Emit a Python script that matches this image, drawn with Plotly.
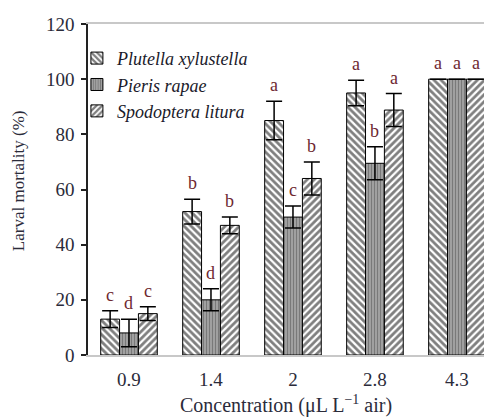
import plotly.graph_objects as go

concentrations = ["0.9", "1.4", "2", "2.8", "4.3"]
species = ["Plutella xylustella", "Pieris rapae", "Spodoptera litura"]

plutella = [13, 52, 85, 95, 100]
plutella_err = [3, 4.5, 7, 4.6, 0]
pieris = [8, 20, 50, 69.5, 100]
pieris_err = [5, 4, 4, 6, 0]
spodoptera = [15, 47, 64, 88.8, 100]
spodoptera_err = [2.5, 3, 6, 6, 0]

plutella_letters = ["c", "b", "a", "a", "a"]
pieris_letters = ["d", "d", "c", "b", "a"]
spodoptera_letters = ["c", "b", "b", "a", "a"]

y_ticks = [0, 20, 40, 60, 80, 100, 120]

FONT = "Liberation Serif, Times New Roman, serif"
TXT = "#2b2b3a"
LETTER = "#6e2830"

x_pos = list(range(len(concentrations)))

series = [
    (species[0], plutella, plutella_err, plutella_letters,
     dict(shape="\\", fgcolor="black", bgcolor="white", size=5, solidity=0.55)),
    (species[1], pieris, pieris_err, pieris_letters,
     dict(shape="|", fgcolor="#505050", bgcolor="#a0a0a0", size=3, solidity=0.33)),
    (species[2], spodoptera, spodoptera_err, spodoptera_letters,
     dict(shape="/", fgcolor="black", bgcolor="white", size=5, solidity=0.55)),
]

fig = go.Figure()
for name, vals, errs, letters, pat in series:
    fig.add_trace(go.Bar(
        x=x_pos, y=vals, name="<i>" + name + "</i>",
        marker=dict(color=pat["bgcolor"], pattern=pat,
                    line=dict(color="black", width=1)),
        error_y=dict(type="data", array=errs, visible=True,
                     color="black", thickness=1.5, width=8),
    ))

bar_w = 0.23
offsets = [-bar_w, 0, bar_w]
annotations = []
for k, (name, vals, errs, letters, pat) in enumerate(series):
    for i, (v, e, L) in enumerate(zip(vals, errs, letters)):
        annotations.append(dict(
            x=i + offsets[k], y=v + e, xref="x", yref="y", text=L,
            showarrow=False, yanchor="middle", yshift=16,
            font=dict(family=FONT, size=18, color=LETTER),
        ))

annotations.append(dict(
    x=-0.177, y=0.528, xref="paper", yref="paper",
    text="Larval mortality (%)", textangle=-90, showarrow=False,
    xanchor="center", yanchor="middle",
    font=dict(family=FONT, size=17, color=TXT),
))
annotations.append(dict(
    x=0.5, y=-0.151, xref="paper", yref="paper",
    text="Concentration (μL L<sup>−1</sup> air)", showarrow=False,
    xanchor="center", yanchor="middle",
    font=dict(family=FONT, size=20, color=TXT),
))

fig.update_layout(
    width=484, height=419,
    margin=dict(l=88, r=0, t=24, b=64),
    paper_bgcolor="white", plot_bgcolor="white",
    barmode="group", bargap=0.31, bargroupgap=0,
    font=dict(family=FONT, size=18, color=TXT),
    showlegend=True,
    legend=dict(x=-0.028, y=0.952, xanchor="left", yanchor="top",
                bgcolor="rgba(0,0,0,0)", tracegroupgap=0,
                font=dict(family=FONT, size=18, color="#1a1a2a")),
    annotations=annotations,
    xaxis=dict(range=[-0.5, 4.33], tickmode="array", tickvals=x_pos,
               ticktext=concentrations, showline=True, linecolor="#c8c8c8",
               linewidth=1.5, mirror=True, ticks="", showgrid=False,
               zeroline=False, ticklabelstandoff=6,
               tickfont=dict(family=FONT, size=19, color=TXT)),
    yaxis=dict(range=[0, 120], tickmode="array", tickvals=y_ticks,
               showline=True, linecolor="#222", linewidth=1.5,
               ticks="outside", ticklen=5, tickcolor="#222", tickwidth=1.5,
               showgrid=False, zeroline=False, ticklabelstandoff=3,
               tickfont=dict(family=FONT, size=19, color=TXT)),
)

fig.write_html("out.html")
